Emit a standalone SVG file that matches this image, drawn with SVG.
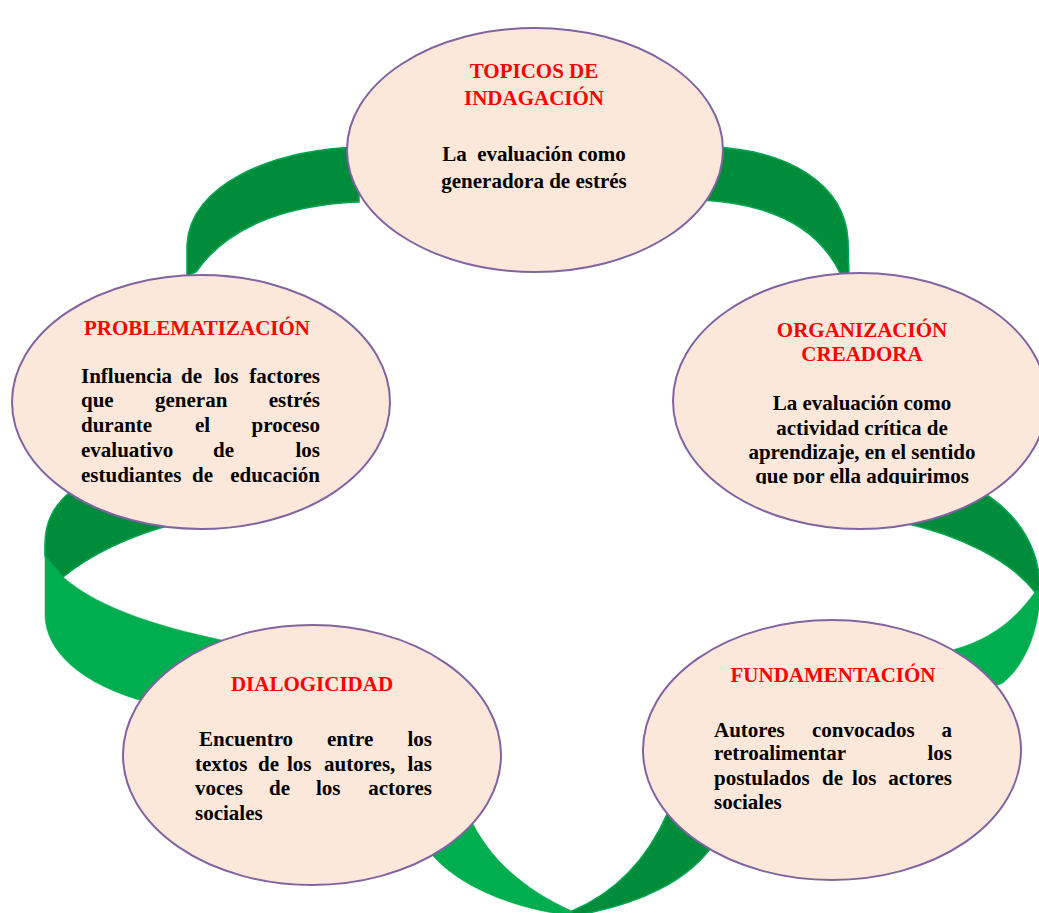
<svg xmlns="http://www.w3.org/2000/svg" width="1039" height="913" viewBox="0 0 1039 913">
<defs>
<style>
.dk{fill:#008C3B;stroke:#00A651;stroke-width:1.5}
.lt{fill:#00AE4F;stroke:#00AE4F;stroke-width:0.5}
.el{fill:#FCE8DA;stroke:#8064A2;stroke-width:2}
.t{font-family:"Liberation Serif","Times New Roman",serif;font-weight:bold;font-size:21px;fill:#FF0000}
.b{font-family:"Liberation Serif","Times New Roman",serif;font-weight:bold;font-size:21px;fill:#000000}
.m{text-anchor:middle}
.e{text-anchor:end}
</style>
<clipPath id="clipR"><rect x="660" y="280" width="400" height="204"/></clipPath>
</defs>
<rect width="1039" height="913" fill="#FFFFFF"/>
<g id="connectors">
<path class="dk" d="M 359,147 C 270,150 190,185 187,245 L 187,276 L 196,272 C 225,230 280,205 359,202 Z"/>
<path class="dk" d="M 712,147 C 790,150 845,185 848,240 L 849,276 L 841,275 C 825,240 790,205 703,200 Z"/>
<path class="lt" d="M 70,492 C 55,505 45,520 45,545 L 45,615 C 45,650 80,685 150,703 L 232,642 C 170,630 100,610 63,577 C 90,555 130,535 175,524 Z"/>
<path class="dk" d="M 70,492 C 55,505 45,520 45,545 L 45,556 L 63,577 C 90,555 130,535 175,524 Z"/>
<path class="dk" d="M 982,492 C 1020,515 1040,550 1040,590 L 1035,592 C 1010,560 960,535 900,522 Z"/>
<path class="lt" d="M 1040,590 C 1040,630 1025,665 1003,683 L 985,690 L 952,650 C 990,640 1015,620 1035,592 Z"/>
<path class="lt" d="M 428,850 C 455,885 510,908 572,916 L 572,911 C 525,890 490,860 470,818 Z"/>
<path class="dk" d="M 572,911 C 610,895 645,865 668,812 L 715,842 C 690,880 640,905 572,916 Z"/>
</g>
<g id="node-topicos">
<ellipse class="el" cx="535" cy="150" rx="188" ry="122"/>
<text class="t m" x="534" y="78">TOPICOS DE</text>
<text class="t m" x="534" y="105">INDAGACIÓN</text>
<text class="b m" x="534" y="161" xml:space="preserve">La  evaluación como</text>
<text class="b m" x="534" y="188">generadora de estrés</text>
</g>
<g id="node-organizacion">
<ellipse class="el" cx="860" cy="401" rx="187" ry="128"/>
<text class="t m" x="862" y="337">ORGANIZACIÓN</text>
<text class="t m" x="862" y="361">CREADORA</text>
<g clip-path="url(#clipR)">
<text class="b m" x="862" y="410">La evaluación como</text>
<text class="b m" x="862" y="435">actividad crítica de</text>
<text class="b m" x="862" y="459">aprendizaje, en el sentido</text>
<text class="b m" x="862" y="483">que por ella adquirimos</text>
</g>
</g>
<g id="node-problematizacion">
<ellipse class="el" cx="201" cy="402" rx="189" ry="127"/>
<text class="t m" x="197" y="335">PROBLEMATIZACIÓN</text>
<text class="b" y="383"><tspan x="81">Influencia</tspan><tspan x="181">de</tspan><tspan x="214">los</tspan></text>
<text class="b e" x="320" y="383">factores</text>
<text class="b" y="407"><tspan x="81">que</tspan><tspan x="155">generan</tspan></text>
<text class="b e" x="320" y="407">estrés</text>
<text class="b" y="432"><tspan x="81">durante</tspan><tspan x="195">el</tspan></text>
<text class="b e" x="320" y="432">proceso</text>
<text class="b" y="457"><tspan x="81">evaluativo</tspan><tspan x="213">de</tspan></text>
<text class="b e" x="320" y="457">los</text>
<text class="b" y="482"><tspan x="81">estudiantes</tspan><tspan x="192">de</tspan></text>
<text class="b e" x="320" y="482">educación</text>
</g>
<g id="node-dialogicidad">
<ellipse class="el" cx="312" cy="755" rx="189" ry="130"/>
<text class="t m" x="312" y="691">DIALOGICIDAD</text>
<text class="b" y="746"><tspan x="199">Encuentro</tspan><tspan x="327">entre</tspan></text>
<text class="b e" x="432" y="746">los</text>
<text class="b" y="771"><tspan x="195">textos</tspan><tspan x="258">de</tspan><tspan x="287">los</tspan><tspan x="324">autores,</tspan></text>
<text class="b e" x="432" y="771">las</text>
<text class="b" y="795"><tspan x="195">voces</tspan><tspan x="269">de</tspan><tspan x="316">los</tspan></text>
<text class="b e" x="432" y="795">actores</text>
<text class="b" x="195" y="820">sociales</text>
</g>
<g id="node-fundamentacion">
<ellipse class="el" cx="832" cy="750" rx="189" ry="130"/>
<text class="t m" x="833" y="682">FUNDAMENTACIÓN</text>
<text class="b" y="737"><tspan x="714">Autores</tspan><tspan x="812">convocados</tspan></text>
<text class="b e" x="952" y="737">a</text>
<text class="b" x="714" y="760">retroalimentar</text>
<text class="b e" x="952" y="760">los</text>
<text class="b" y="785"><tspan x="714">postulados</tspan><tspan x="822">de</tspan><tspan x="852">los</tspan></text>
<text class="b e" x="952" y="785">actores</text>
<text class="b" x="714" y="809">sociales</text>
</g>
</svg>
